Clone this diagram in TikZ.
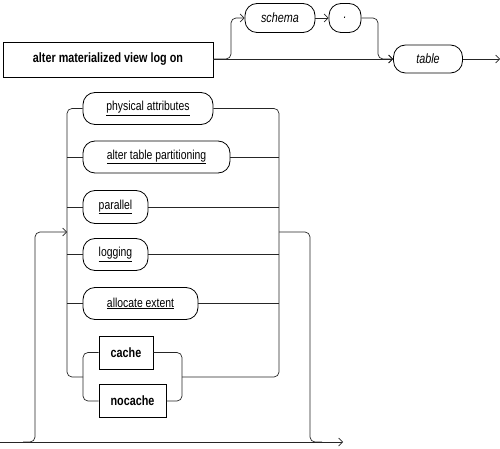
\documentclass[tikz,border=0pt]{standalone}
\usepackage{fontspec}
\setmainfont[FakeStretch=0.8]{Liberation Sans}
\usetikzlibrary{arrows.meta,calc}
\begin{document}
\begin{tikzpicture}[x=1pt,y=-1pt,
  line/.style={line width=0.7pt, draw=black!85},
  arr/.style={line, -{Straight Barb[length=4pt,width=8pt]}},
  rnd/.style={line, rounded corners=5pt},
  kw/.style={draw, line width=0.8pt, rectangle, font=\bfseries\fontsize{13.5}{15}\selectfont, inner sep=0pt},
  term/.style={draw, line width=0.8pt, rectangle, rounded corners=12pt, inner sep=0pt, font=\fontsize{13}{15}\selectfont},
  iterm/.style={term, font=\itshape\fontsize{13.5}{15}\selectfont}
]
\useasboundingbox (0,0) rectangle (500,449);

% top row
\node[kw, minimum width=210pt, minimum height=35pt] (alter) at (108,59.5) {alter materialized view log on};
\node[iterm, minimum width=70pt, minimum height=29pt] (schema) at (280,18) {schema};
\node[iterm, minimum width=32pt, minimum height=29pt] (dot) at (345,18) {.};
\node[iterm, minimum width=69pt, minimum height=28pt] (table) at (428,59) {table};
\coordinate (end1) at (500,59);
\coordinate (b1) at (231,0);
\coordinate (b2) at (378,0);

\draw[arr] (alter.east |- table.west) -- (table.west);
\draw[arr, rounded corners=5pt] (alter.east |- table.west) -| (b1 |- schema.west) -- (schema.west);
\draw[arr] (schema.east) -- (dot.west);
\draw[arr, rounded corners=5pt] (dot.east) -| (b2 |- table.west) -- (table.west);
\draw[arr] (table.east) -- (end1);

% lower section
\coordinate (lr) at (67,0);
\coordinate (rr) at (279,0);
\coordinate (sl) at (83,0);
\coordinate (sr) at (182,0);
\coordinate (lo) at (35,0);
\coordinate (ro) at (310,0);

\node[term, minimum width=130pt, minimum height=32pt] (pa) at (148,108.5) {\underline{physical attributes}};
\node[term, minimum width=147pt, minimum height=32pt] (atp) at (156.5,157) {\underline{alter table partitioning}};
\node[term, minimum width=65pt, minimum height=33pt] (par) at (115.5,207) {\underline{parallel}};
\node[term, minimum width=65pt, minimum height=32pt] (log) at (115.5,254.5) {\underline{logging}};
\node[term, minimum width=115pt, minimum height=32pt] (alloc) at (140.5,303.5) {\underline{allocate extent}};
\node[kw, minimum width=54pt, minimum height=33pt] (cache) at (126,352.5) {cache};
\node[kw, minimum width=67pt, minimum height=33pt] (nocache) at (132.5,401) {nocache};

\coordinate (join) at (0,377);
\coordinate (loopy) at (0,232);
\coordinate (start) at (0,442);
\coordinate (end2) at (343,442);

% bottom line and loop
\draw[arr] (start) -- (end2);
\draw[arr, rounded corners=5pt] ($(lo |- start)+(-12,0)$) -| (lo |- loopy) -- (lr |- loopy);
\draw[rnd] (rr |- loopy) -| (ro |- start) -- ++(12,0);

% rails
\draw[rnd] (pa.west) -| (lr |- join) -- (sl |- join);
\draw[rnd] (pa.east) -| (rr |- join) -- (sr |- join);

% items
\foreach \n in {atp,par,log,alloc}{
  \draw[line] (lr |- \n.west) -- (\n.west);
  \draw[line] (\n.east) -- (rr |- \n.east);
}

% cache / nocache sub-choice
\draw[rnd] (cache.west) -| (sl |- nocache.west) -- (nocache.west);
\draw[rnd] (cache.east) -| (sr |- nocache.east) -- (nocache.east);
\end{tikzpicture}
\end{document}
